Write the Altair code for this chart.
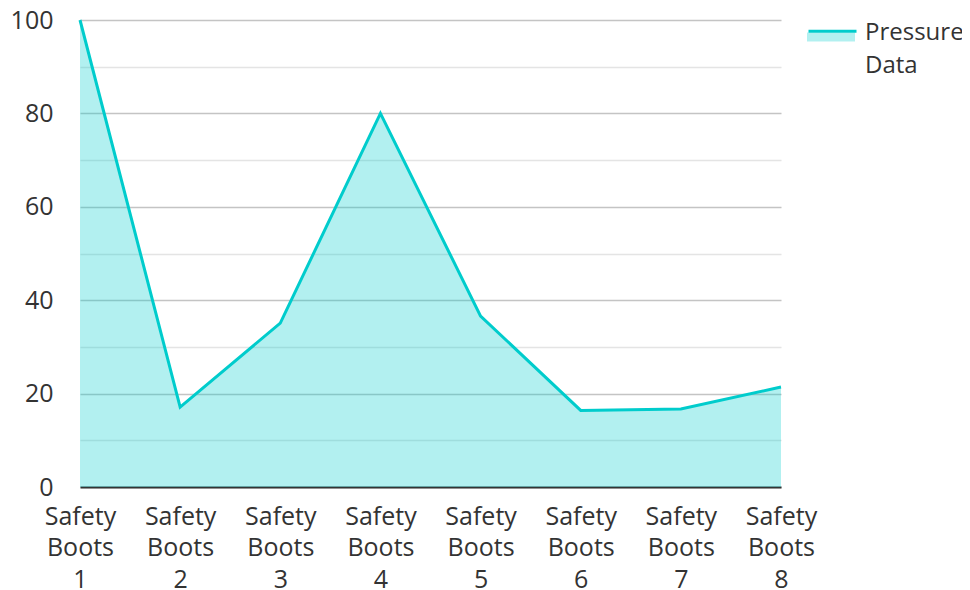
import altair as alt
import pandas as pd

categories = ["Safety Boots 1", "Safety Boots 2", "Safety Boots 3", "Safety Boots 4",
              "Safety Boots 5", "Safety Boots 6", "Safety Boots 7", "Safety Boots 8"]
values = [100, 17.1, 35.1, 80, 36.6, 16.4, 16.7, 21.4]
series = ["Pressure Data"] * len(categories)
y_ticks = [0, 10, 20, 30, 40, 50, 60, 70, 80, 90, 100]

df = pd.DataFrame({"category": categories, "value": values, "series": series})

FONT = "Open Sans"
TEXT = "#333333"
CYAN = "#00CCCC"
FS = 25
LFS = 24

x = alt.X(
    "category:N", sort=categories,
    scale=alt.Scale(type="point", padding=0),
    axis=alt.Axis(title=None, labelAngle=0, labelExpr="split(datum.label, ' ')",
                  labelFontSize=FS, labelColor=TEXT, labelPadding=17, labelLineHeight=31.5,
                  ticks=False, tickSize=0, domainColor=TEXT, domainWidth=2, grid=False,
                  labelFont=FONT, labelLimit=300),
)
y = alt.Y(
    "value:Q",
    scale=alt.Scale(domain=[0, 100], nice=False, zero=True),
    axis=alt.Axis(title=None, values=y_ticks,
                  labelExpr="datum.value % 20 == 0 ? datum.label : ''",
                  gridColor={"condition": {"test": "datum.value % 20 == 0", "value": "#C4C4C4"},
                             "value": "#E4E4E4"},
                  gridWidth=1.5, domain=False, ticks=False, tickSize=0, labelPadding=27,
                  labelFontSize=FS, labelColor=TEXT, labelFont=FONT),
)

legend_common = dict(title=None, orient="none", legendX=727, padding=0,
                     labelFontSize=LFS, labelColor=TEXT, labelFont=FONT, labelOffset=7,
                     symbolSize=2304, labelLimit=300)

area = alt.Chart(df).mark_area(fillOpacity=0.3).encode(
    x=x, y=y,
    fill=alt.Fill("series:N", scale=alt.Scale(range=[CYAN]),
                  legend=alt.Legend(symbolType="M-1,0.02 L1,0.02 L1,0.40 L-1,0.40 Z",
                                    symbolOpacity=0.3, symbolStrokeWidth=0,
                                    labelExpr="''", legendY=-12, **legend_common)),
)
line = alt.Chart(df).mark_line(strokeWidth=3).encode(
    x=x, y=y,
    stroke=alt.Stroke("series:N", scale=alt.Scale(range=[CYAN]),
                      legend=alt.Legend(symbolType="M-1,-0.05 L1,-0.05", symbolStrokeWidth=3,
                                        labelExpr="['Pressure', 'Data']", legendY=-13,
                                        **legend_common)),
)

chart = alt.layer(area, line).resolve_legend(fill="independent", stroke="independent").properties(
    width=701, height=467,
    autosize=alt.AutoSizeParams(type="none"),
    padding={"left": 72, "top": 12, "right": 181, "bottom": 104},
).configure(font=FONT, style={"guide-label": {"lineHeight": 33}}).configure_view(stroke=None)

chart.save("out.html", embed_options={"renderer": "svg", "actions": False})
